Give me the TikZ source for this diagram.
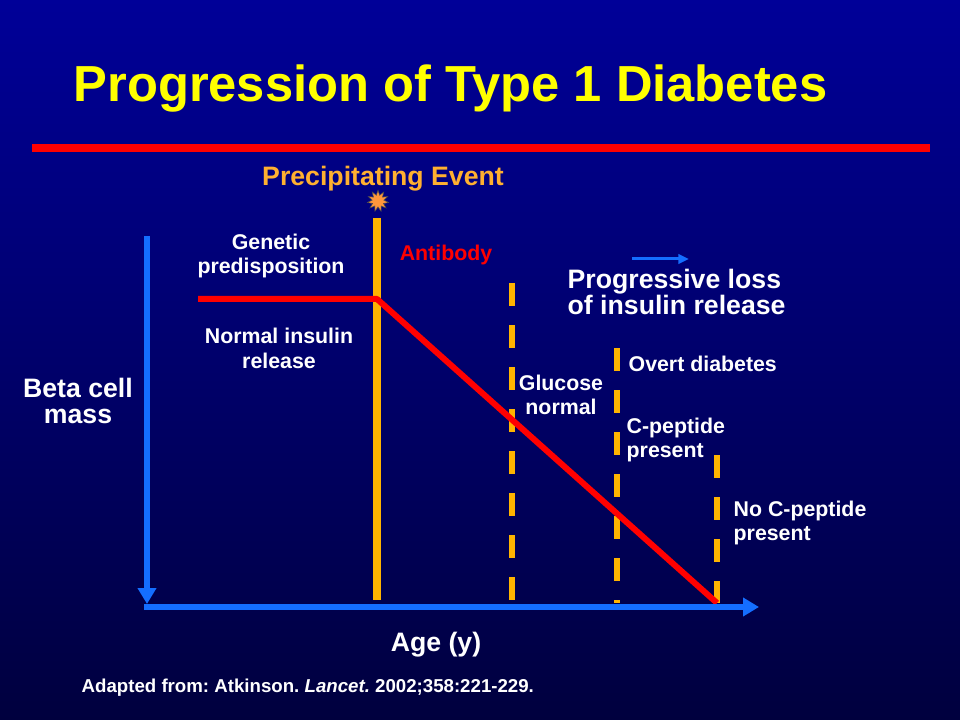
\documentclass[tikz,border=0pt]{standalone}
\usepackage{fontspec}
\setmainfont{Liberation Sans}
\usetikzlibrary{arrows.meta,shapes.geometric}
\definecolor{slideblue}{RGB}{0,0,152}
\definecolor{slidenavy}{RGB}{0,0,62}
\definecolor{titleyellow}{RGB}{255,255,0}
\definecolor{eventorange}{RGB}{255,176,48}
\definecolor{lineorange}{RGB}{255,180,0}
\definecolor{axisblue}{RGB}{20,110,255}
\definecolor{burstorange}{RGB}{255,150,60}
\tikzset{
  every picture/.style={
    line width=1pt
  },
  whitetext/.style={text=white, inner sep=0pt, font=\bfseries\fontsize{16}{18}\selectfont},
  bigtext/.style={whitetext, font=\bfseries\fontsize{20}{20.25}\selectfont},
  axis/.style={axisblue, line width=5pt, -{Triangle[length=12pt,width=13.5pt]}},
  stage/.style={lineorange, line width=4.5pt, dash pattern=on 17.5pt off 14pt},
  insulin/.style={red, line width=4.5pt, line join=round}
}

\begin{document}
\begin{tikzpicture}[x=0.75pt, y=-0.75pt]
  % slide background
  \shade[top color=slideblue, bottom color=slidenavy] (0,0) rectangle (960,720);

  \node[anchor=base west, inner sep=0pt, text=titleyellow, font=\bfseries\fontsize{38}{40}\selectfont] (title) at (73,102) {Progression of Type 1 Diabetes};
  \draw[red, line width=6pt] (32,148) -- (930,148);

  % time markers
  \coordinate (eventtop) at (377,218);
  \coordinate (eventbot) at (377,600);
  \draw[lineorange, line width=6pt] (eventtop) -- (eventbot);
  \draw[stage] (512,283) -- (512,603);
  \draw[stage] (617,348) -- (617,603);
  \draw[stage] (717,455) -- (717,603);

  \node[anchor=base, inner sep=0pt, text=eventorange, font=\bfseries\fontsize{20}{20}\selectfont] (event) at (383,186) {Precipitating Event};
  \node[star, star points=11, star point ratio=1.8, minimum size=16pt, inner sep=0pt, fill=burstorange, draw=black!70, line width=0.4pt] (burst) at (378,201) {};

  % beta cell curve
  \coordinate (genstart) at (198,299);
  \coordinate (onset) at (377,299);
  \coordinate (loss) at (717,603);
  \draw[insulin] (genstart) -- (onset) -- (loss);

  % axes
  \coordinate (ytop) at (147,236);
  \coordinate (ybot) at (147,604);
  \coordinate (xleft) at (144,607);
  \coordinate (xright) at (759,607);
  \draw[axis] (ytop) -- (ybot);
  \draw[axis] (xleft) -- (xright);

  % labels (base = last line)
  \node[whitetext, anchor=base, align=center] (genetic) at (271,274) {Genetic\\predisposition};
  \node[whitetext, anchor=base, align=center] (normal) at (279,368) {Normal insulin\\release};
  \node[whitetext, anchor=base, text=red] (antibody) at (446,261) {Antibody};
  \node[bigtext, anchor=base west, align=left] (progressive) at (567,315) {Progressive loss\\of insulin release};
  \coordinate (arrowstart) at (632,259);
  \coordinate (arrowend) at (689,259);
  \draw[axisblue, line width=2.25pt, -{Triangle[length=8pt,width=7pt]}] (arrowstart) -- (arrowend);
  \node[whitetext, anchor=base, align=center] (glucose) at (561,414) {Glucose\\normal};
  \node[whitetext, anchor=base west] (overt) at (628,371) {Overt diabetes};
  \node[whitetext, anchor=base west, align=left] (cpeptide) at (626,457) {C-peptide\\present};
  \node[whitetext, anchor=base west, align=left] (nocpeptide) at (733,540) {No C-peptide\\present};
  \node[bigtext, anchor=base, align=center, font=\bfseries\fontsize{20}{19}\selectfont] (beta) at (78,423) {Beta cell\\mass};
  \node[bigtext, anchor=base] (age) at (436,651) {Age (y)};
  \node[whitetext, anchor=base west, font=\bfseries\fontsize{14}{16}\selectfont\frenchspacing] (source) at (81,692) {Adapted from: Atkinson. \textit{Lancet.} 2002;358:221-229.};
\end{tikzpicture}
\end{document}
